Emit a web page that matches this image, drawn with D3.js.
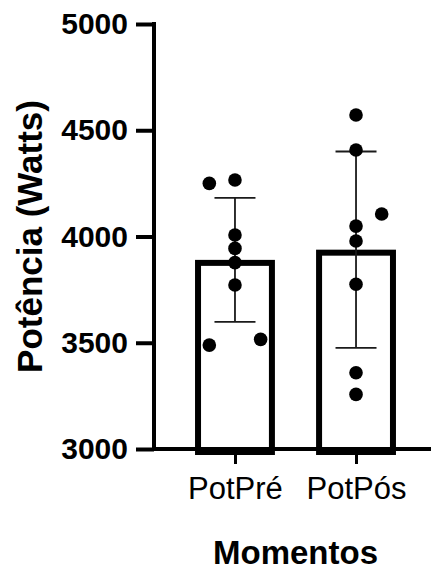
<!DOCTYPE html>
<html>
<head>
<meta charset="utf-8">
<script src="https://cdn.jsdelivr.net/npm/d3@7"></script>
<style>
  html, body { margin: 0; padding: 0; background: #fff; }
  svg { display: block; font-family: "Liberation Sans", Arial, sans-serif; }
</style>
</head>
<body>
<div id="chart"></div>
<script>
// Data
const categories = ['PotPré', 'PotPós'];
const means = [3890, 3938];
const sds = [292, 462];
const preValues = [4250, 4266, 4007, 3944, 3877, 3772, 3489, 3516];
const posValues = [4572, 4407, 4106, 4049, 3979, 3775, 3359, 3257];
// scatter column of each point (-1 left, 0 centre, 1 right)
const preColumns = [-1, 0, 0, 0, 0, 0, -1, 1];
const posColumns = [0, 0, 1, 0, 0, 0, 0, 0];
const yTicks = [3000, 3500, 4000, 4500, 5000];
const yTitle = 'Potência (Watts)';
const xTitle = 'Momentos';

const W = 431, H = 570;
const svg = d3.select('#chart').append('svg')
    .attr('width', W).attr('height', H);

const y = d3.scaleLinear().domain([3000, 5000]).range([449, 24]);
const x = d3.scalePoint().domain(categories).range([154, 437]).padding(0.669);

const barW = x.step() * 0.66;
const barStroke = 6;
const spread = x.step() * 0.212;

const groups = categories.map((c, i) => ({
    cat: c,
    mean: means[i],
    sd: sds[i],
    points: (i === 0 ? preValues : posValues).map((v, j) => ({
        v, col: (i === 0 ? preColumns : posColumns)[j]
    }))
}));

// Bars (outer edge at the mean)
svg.selectAll('.bar')
    .data(groups)
    .enter().append('rect')
    .attr('class', 'bar')
    .attr('x', d => x(d.cat) - barW / 2 + barStroke / 2)
    .attr('y', d => y(d.mean) + barStroke / 2)
    .attr('width', barW - barStroke)
    .attr('height', d => y(3000) - y(d.mean))
    .attr('fill', '#fff')
    .attr('stroke', '#000')
    .attr('stroke-width', barStroke);

// Error bars
const capW = 41;
const err = svg.selectAll('.err')
    .data(groups)
    .enter().append('g')
    .attr('class', 'err')
    .attr('stroke', '#1a1a1a')
    .attr('stroke-width', 1.8);

err.append('line')
    .attr('x1', d => x(d.cat)).attr('x2', d => x(d.cat))
    .attr('y1', d => y(d.mean + d.sd)).attr('y2', d => y(d.mean - d.sd));
err.append('line')
    .attr('x1', d => x(d.cat) - capW / 2).attr('x2', d => x(d.cat) + capW / 2)
    .attr('y1', d => y(d.mean + d.sd)).attr('y2', d => y(d.mean + d.sd));
err.append('line')
    .attr('x1', d => x(d.cat) - capW / 2).attr('x2', d => x(d.cat) + capW / 2)
    .attr('y1', d => y(d.mean - d.sd)).attr('y2', d => y(d.mean - d.sd));

// Dots
svg.selectAll('.pts')
    .data(groups)
    .enter().append('g')
    .attr('class', 'pts')
    .selectAll('circle')
    .data(d => d.points.map(p => ({ ...p, cat: d.cat })))
    .enter().append('circle')
    .attr('cx', d => x(d.cat) + d.col * spread)
    .attr('cy', d => y(d.v))
    .attr('r', 6.8)
    .attr('fill', '#000');

// Y axis
const yAxis = svg.append('g')
    .attr('transform', 'translate(154,0)')
    .call(d3.axisLeft(y).tickValues(yTicks).tickFormat(d3.format('d'))
        .tickSize(18).tickPadding(8).tickSizeOuter(0));
yAxis.select('.domain').attr('stroke', '#000').attr('stroke-width', 4).attr('d', `M0,${y(3000) + 2}V${y(5000) - 2}`);
yAxis.selectAll('.tick line').attr('stroke', '#000').attr('stroke-width', 4);
yAxis.selectAll('.tick text')
    .attr('font-size', 30).attr('font-weight', 'bold').attr('fill', '#000')
    .attr('font-family', '"Liberation Sans", Arial, sans-serif');

// X axis
const xAxis = svg.append('g')
    .attr('transform', `translate(0,${y(3000)})`)
    .call(d3.axisBottom(x).tickSize(15).tickPadding(13).tickSizeOuter(0));
xAxis.select('.domain').attr('stroke', '#000').attr('stroke-width', 4).attr('d', 'M152,0H437');
xAxis.selectAll('.tick line').attr('stroke', '#000').attr('stroke-width', 3);
xAxis.selectAll('.tick text')
    .attr('font-size', 31).attr('fill', '#000')
    .attr('font-family', '"Liberation Sans", Arial, sans-serif');

// Titles
svg.append('text')
    .attr('transform', `translate(42,${(y(3000) + y(5000)) / 2}) rotate(-90)`)
    .attr('text-anchor', 'middle')
    .attr('font-size', 35).attr('font-weight', 'bold')
    .text(yTitle);

svg.append('text')
    .attr('x', (x(categories[0]) + x(categories[1])) / 2)
    .attr('y', 564)
    .attr('text-anchor', 'middle')
    .attr('font-size', 33).attr('font-weight', 'bold')
    .text(xTitle);
</script>
</body>
</html>
